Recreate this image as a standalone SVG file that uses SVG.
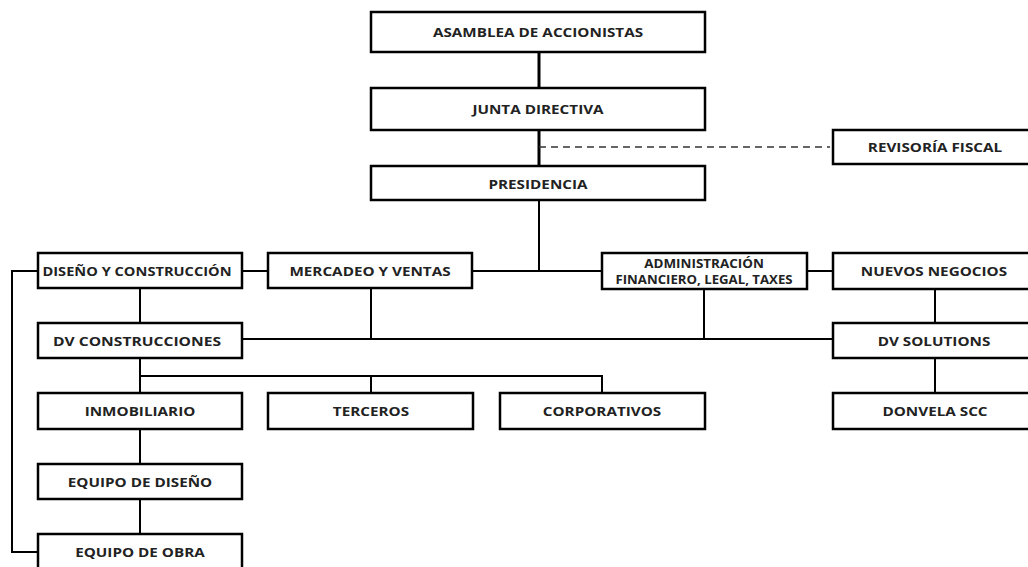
<svg xmlns="http://www.w3.org/2000/svg" width="1028" height="567" viewBox="0 0 1028 567">
<style>
.box{fill:#fff;stroke:#000;stroke-width:2.5}
.t{font-family:"Open Sans",Lato,sans-serif;font-weight:bold;font-size:12.5px;fill:#222;text-anchor:middle;dominant-baseline:central}
.c{stroke:#000;stroke-width:2;fill:none}
.d{stroke:#333;stroke-width:1.5;stroke-dasharray:7,5;fill:none}
</style>
<rect width="1028" height="567" fill="#fff"/>
<g id="connectors">
<line class="c" x1="539" y1="52" x2="539" y2="166" style="stroke-width:3"/>
<line class="d" x1="539" y1="147" x2="830" y2="147"/>
<polyline class="c" points="539,200 539,271"/>
<line class="c" x1="472" y1="271" x2="602" y2="271"/>
<line class="c" x1="242" y1="271" x2="268" y2="271"/>
<line class="c" x1="807" y1="271" x2="833" y2="271"/>
<line class="c" x1="140" y1="288" x2="140" y2="323"/>
<line class="c" x1="371" y1="288" x2="371" y2="339"/>
<line class="c" x1="704" y1="289" x2="704" y2="339"/>
<line class="c" x1="935" y1="289" x2="935" y2="323"/>
<line class="c" x1="242" y1="339" x2="833" y2="339"/>
<line class="c" x1="140" y1="358" x2="140" y2="393"/>
<polyline class="c" points="140,376 602,376 602,393"/>
<line class="c" x1="371" y1="376" x2="371" y2="393"/>
<line class="c" x1="935" y1="358" x2="935" y2="393"/>
<line class="c" x1="140" y1="429" x2="140" y2="464"/>
<line class="c" x1="140" y1="499" x2="140" y2="534"/>
<polyline class="c" points="38,271 12,271 12,552 38,552"/>
</g>
<g id="asamblea"><rect class="box" x="371" y="12" width="334" height="40"/><text class="t" transform="translate(538,32) scale(1.22,1)">ASAMBLEA DE ACCIONISTAS</text></g>
<g id="junta"><rect class="box" x="371" y="88" width="334" height="42"/><text class="t" transform="translate(538,109) scale(1.22,1)">JUNTA DIRECTIVA</text></g>
<g id="revisoria"><rect class="box" x="833" y="130" width="200" height="34"/><text class="t" transform="translate(935,147) scale(1.22,1)">REVISORÍA FISCAL</text></g>
<g id="presidencia"><rect class="box" x="371" y="166" width="334" height="34"/><text class="t" transform="translate(538,184) scale(1.22,1)">PRESIDENCIA</text></g>
<g id="diseno"><rect class="box" x="38" y="253" width="204" height="35"/><text class="t" transform="translate(137,271) scale(1.17,1)">DISEÑO Y CONSTRUCCIÓN</text></g>
<g id="mercadeo"><rect class="box" x="268" y="253" width="204" height="35"/><text class="t" transform="translate(370,271) scale(1.22,1)">MERCADEO Y VENTAS</text></g>
<g id="admin"><rect class="box" x="602" y="253" width="205" height="36"/><text class="t" style="font-size:12px" transform="translate(704,263) scale(1.12,1)">ADMINISTRACIÓN</text><text class="t" style="font-size:12px" transform="translate(704,280) scale(1.1,1)">FINANCIERO, LEGAL, TAXES</text></g>
<g id="nuevos"><rect class="box" x="833" y="253" width="200" height="36"/><text class="t" transform="translate(934,271) scale(1.22,1)">NUEVOS NEGOCIOS</text></g>
<g id="dvconstrucciones"><rect class="box" x="38" y="323" width="204" height="35"/><text class="t" transform="translate(137,341) scale(1.25,1)">DV CONSTRUCCIONES</text></g>
<g id="dvsolutions"><rect class="box" x="833" y="323" width="200" height="35"/><text class="t" transform="translate(934,341) scale(1.22,1)">DV SOLUTIONS</text></g>
<g id="inmobiliario"><rect class="box" x="38" y="393" width="204" height="36"/><text class="t" transform="translate(140,411) scale(1.22,1)">INMOBILIARIO</text></g>
<g id="terceros"><rect class="box" x="268" y="393" width="205" height="36"/><text class="t" transform="translate(371,411) scale(1.22,1)">TERCEROS</text></g>
<g id="corporativos"><rect class="box" x="500" y="393" width="205" height="36"/><text class="t" transform="translate(602,411) scale(1.22,1)">CORPORATIVOS</text></g>
<g id="donvela"><rect class="box" x="833" y="393" width="200" height="36"/><text class="t" transform="translate(935,411) scale(1.22,1)">DONVELA SCC</text></g>
<g id="equipodiseno"><rect class="box" x="38" y="464" width="204" height="35"/><text class="t" transform="translate(140,482) scale(1.22,1)">EQUIPO DE DISEÑO</text></g>
<g id="equipoobra"><rect class="box" x="38" y="534" width="204" height="40"/><text class="t" transform="translate(140,552) scale(1.22,1)">EQUIPO DE OBRA</text></g>
</svg>
